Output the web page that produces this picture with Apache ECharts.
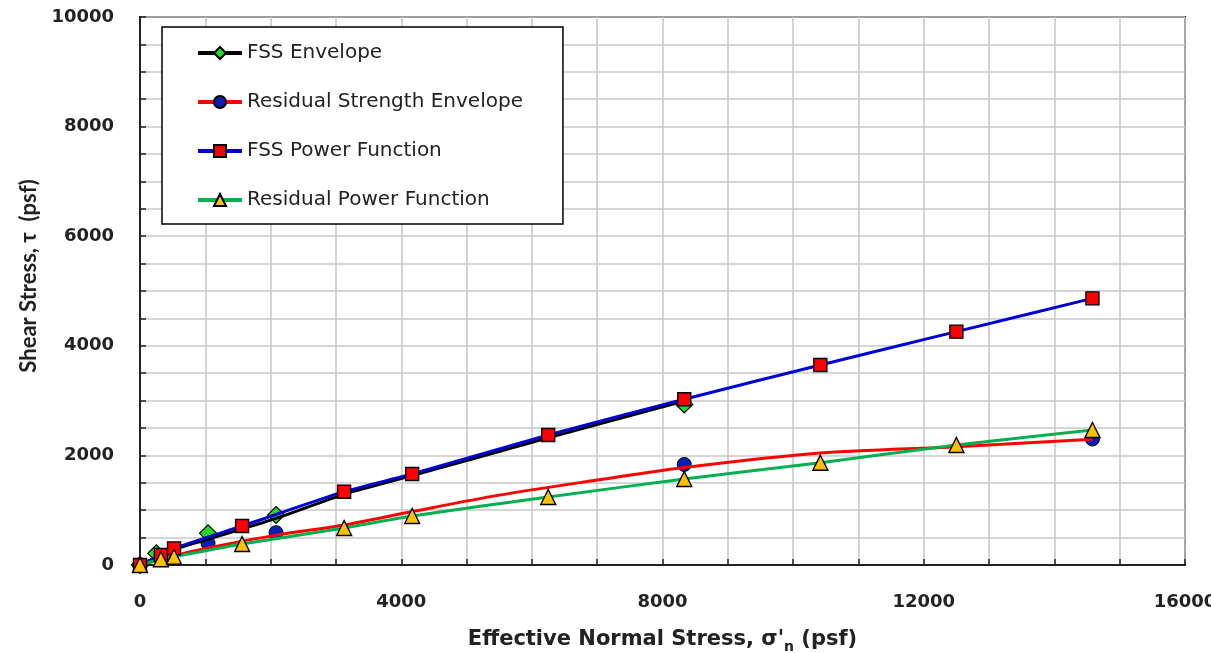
<!DOCTYPE html>
<html>
<head>
<meta charset="utf-8">
<script src="https://cdn.jsdelivr.net/npm/echarts@6/dist/echarts.min.js"></script>
<style>html,body{margin:0;padding:0;background:#fff}#c{width:1211px;height:653px}</style>
</head>
<body>
<div id="c"></div>
<script>
// FSS Envelope: fitted curve (black) and measured points (green diamonds)
var fssEnvX = [0, 521, 1042, 2083, 3125, 4167, 6250, 8333];
var fssEnvY = [0, 280, 470, 850, 1290, 1630, 2320, 2990];
var fssPtsX = [0, 250, 1042, 2083, 8333];
var fssPtsY = [0, 213, 578, 912, 2930];
// Residual Strength Envelope: fitted curve (red) and points (blue circles)
var resEnvX = [0, 521, 1042, 2083, 3125, 4167, 5500, 7000, 8333, 10417, 12500, 14583];
var resEnvY = [0, 170, 310, 545, 730, 975, 1275, 1550, 1780, 2045, 2160, 2295];
var resPtsX = [0, 1042, 2083, 8333, 14583];
var resPtsY = [0, 396, 590, 1835, 2300];
// FSS Power Function (blue line, red squares)
var fssPowX = [0, 320, 521, 1563, 3125, 4167, 6250, 8333, 10417, 12500, 14583];
var fssPowY = [0, 182, 304, 712, 1338, 1661, 2372, 3024, 3650, 4258, 4866];
// Residual Power Function (green line, gold triangles)
var resPowX = [0, 320, 521, 1563, 3125, 4167, 6250, 8333, 10417, 12500, 14583];
var resPowY = [0, 104, 151, 383, 675, 894, 1241, 1570, 1867, 2190, 2464];

var seriesNames = ['FSS Envelope', 'Residual Strength Envelope', 'FSS Power Function', 'Residual Power Function'];
var xTicks = {min: 0, max: 16000, interval: 4000};
var yTicks = {min: 0, max: 10000, interval: 2000};

function pairs(xs, ys) { return xs.map(function (x, i) { return [x, ys[i]]; }); }

var chart = echarts.init(document.getElementById('c'), null, {renderer: 'canvas'});
var labelFont = {fontFamily: 'DejaVu Sans', fontWeight: 'bold', fontSize: 18, color: '#222', formatter: function (v) { return String(v); }};
var gridLine = {show: true, lineStyle: {color: '#c8c8c8', width: 1.6}};

chart.setOption({
  animation: false,
  backgroundColor: '#fff',
  grid: {left: 140, right: 26, top: 17, bottom: 88, show: true, borderColor: '#222', borderWidth: 2, backgroundColor: 'transparent', containLabel: false, outerBoundsMode: 'none'},
  legend: {
    orient: 'vertical', left: 162, top: 27,
    data: seriesNames,
    itemWidth: 44, itemHeight: 15, itemGap: 29,
    padding: [16, 40, 14, 34],
    borderColor: '#000', borderWidth: 1.5, backgroundColor: '#fff',
    lineStyle: {width: 4},
    textStyle: {fontFamily: 'DejaVu Sans', fontSize: 20, lineHeight: 20, color: '#222'}
  },
  xAxis: {
    type: 'value', min: xTicks.min, max: xTicks.max, interval: xTicks.interval,
    name: "Effective Normal Stress, σ'{s|n} (psf)",
    nameLocation: 'middle', nameGap: 61,
    nameTextStyle: {fontFamily: 'DejaVu Sans', fontWeight: 'bold', fontSize: 21, color: '#222',
      rich: {s: {fontFamily: 'DejaVu Sans', fontWeight: 'bold', fontSize: 14, color: '#222', padding: [14, 0, 0, 0]}}},
    axisLine: {show: true, lineStyle: {color: '#222', width: 2}},
    axisTick: {show: true, inside: true, length: 6, lineStyle: {color: '#222', width: 1.5}},
    minorTick: {show: true, splitNumber: 4, length: 6, lineStyle: {color: '#222', width: 1.5}},
    splitLine: gridLine,
    minorSplitLine: gridLine,
    axisLabel: Object.assign({margin: 28}, labelFont)
  },
  yAxis: {
    type: 'value', min: yTicks.min, max: yTicks.max, interval: yTicks.interval,
    name: 'Shear Stress, τ  (psf)',
    nameLocation: 'middle', nameGap: 100, nameRotate: 90,
    nameTextStyle: {fontFamily: 'Lato', fontWeight: 'bold', fontSize: 22, color: '#222', padding: [0, 0, 0, 30]},
    axisLine: {show: true, lineStyle: {color: '#222', width: 2}},
    axisTick: {show: true, inside: true, length: 6, lineStyle: {color: '#222', width: 1.5}},
    minorTick: {show: true, splitNumber: 4, length: 6, lineStyle: {color: '#222', width: 1.5}},
    splitLine: gridLine,
    minorSplitLine: gridLine,
    axisLabel: Object.assign({margin: 26}, labelFont)
  },
  series: [
    {
      name: seriesNames[0], type: 'line', smooth: 0.3, showSymbol: false,
      symbol: 'diamond', symbolSize: 16,
      lineStyle: {color: '#000', width: 3},
      itemStyle: {color: '#22dd22', borderColor: '#000', borderWidth: 1.2},
      data: pairs(fssEnvX, fssEnvY)
    },
    {
      name: seriesNames[0], type: 'scatter', symbol: 'diamond', symbolSize: 17,
      itemStyle: {color: '#22dd22', borderColor: '#000', borderWidth: 1.2, opacity: 1},
      data: pairs(fssPtsX, fssPtsY)
    },
    {
      name: seriesNames[1], type: 'line', smooth: 0.3, showSymbol: false,
      symbol: 'circle', symbolSize: 13,
      lineStyle: {color: '#ff0000', width: 3},
      itemStyle: {color: '#0a1fb5', borderColor: '#000', borderWidth: 1},
      data: pairs(resEnvX, resEnvY)
    },
    {
      name: seriesNames[1], type: 'scatter', symbol: 'circle', symbolSize: 14,
      itemStyle: {color: '#0a1fb5', borderColor: '#000', borderWidth: 1, opacity: 1},
      data: pairs(resPtsX, resPtsY)
    },
    {
      name: seriesNames[2], type: 'line', smooth: 0.2,
      symbol: 'rect', symbolSize: 13, showAllSymbol: true,
      lineStyle: {color: '#0000d0', width: 3},
      itemStyle: {color: '#ff0000', borderColor: '#000', borderWidth: 1.4},
      data: pairs(fssPowX, fssPowY)
    },
    {
      name: seriesNames[3], type: 'line', smooth: 0.2,
      symbol: 'triangle', symbolSize: 15, showAllSymbol: true,
      lineStyle: {color: '#00b050', width: 3},
      itemStyle: {color: '#ffc000', borderColor: '#000', borderWidth: 1.4},
      data: pairs(resPowX, resPowY)
    }
  ]
});
</script>
</body>
</html>
